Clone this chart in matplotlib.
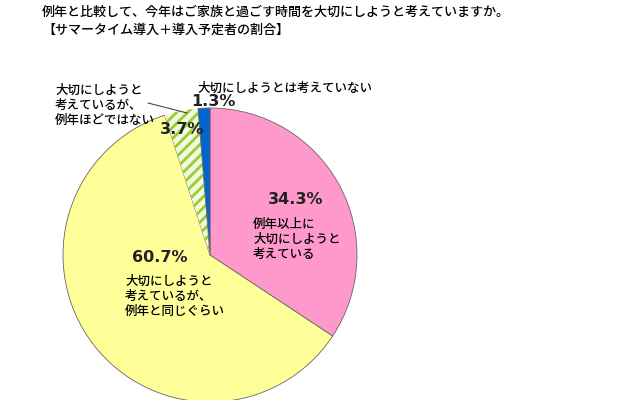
import matplotlib.pyplot as plt

plt.rcParams['font.family'] = ['Noto Sans CJK JP', 'DejaVu Sans']
plt.rcParams['hatch.linewidth'] = 2.0

# data
labels = ['例年以上に\n大切にしようと\n考えている',
          '大切にしようと\n考えているが、\n例年と同じぐらい',
          '大切にしようと\n考えているが、\n例年ほどではない',
          '大切にしようとは考えていない']
values = [34.3, 60.7, 3.7, 1.3]
colors = ['#FF99CC', '#FFFF99', '#F2F9DC', '#0066CC']

fig = plt.figure(figsize=(6.4, 4.0), dpi=100)
ax = fig.add_axes([0, 0, 1, 1])

wedges, _ = ax.pie(values, colors=colors, startangle=90, counterclock=False,
                   center=(210, 145), radius=147, frame=True,
                   wedgeprops=dict(edgecolor='#666666', linewidth=0.6))
wedges[2].set_hatch('///')
wedges[2].set_edgecolor('#99CC33')
wedges[2].set_linewidth(0)
ax.set_xlim(0, 640)
ax.set_ylim(0, 400)
ax.set_aspect('equal')
ax.axis('off')

# title
fig.text(42 / 640, 1 - 12 / 400, '例年と比較して、今年はご家族と過ごす時間を大切にしようと考えていますか。',
         fontsize=9.4, va='center', ha='left', fontweight='medium')
fig.text(42 / 640, 1 - 30 / 400, '【サマータイム導入＋導入予定者の割合】',
         fontsize=9.4, va='center', ha='left', fontweight='medium')

pct = [f'{v}%' for v in values]
pct_style = dict(fontsize=11.5, fontweight='bold', ha='center', va='center',
                 color='#222222', family='DejaVu Sans')
# percentages
ax.text(296, 400 - 199, pct[0], **pct_style)
ax.text(160, 400 - 257, pct[1], **pct_style)
ax.text(182, 400 - 130, pct[2], **pct_style)
ax.text(213, 400 - 102, pct[3], **pct_style)

# category labels
lab_style = dict(fontsize=9, ha='left', va='center', linespacing=1.2, fontweight='medium')
ax.text(253, 400 - 239, labels[0], **lab_style)
ax.text(125, 400 - 296, labels[1], **lab_style)
ax.text(55, 400 - 105, labels[2], **lab_style)
ax.text(198, 400 - 88, labels[3], **lab_style)

ax.plot([148, 187], [400 - 103, 400 - 113], color='#333333', lw=0.7)

fig.savefig('out.png', dpi=100)
